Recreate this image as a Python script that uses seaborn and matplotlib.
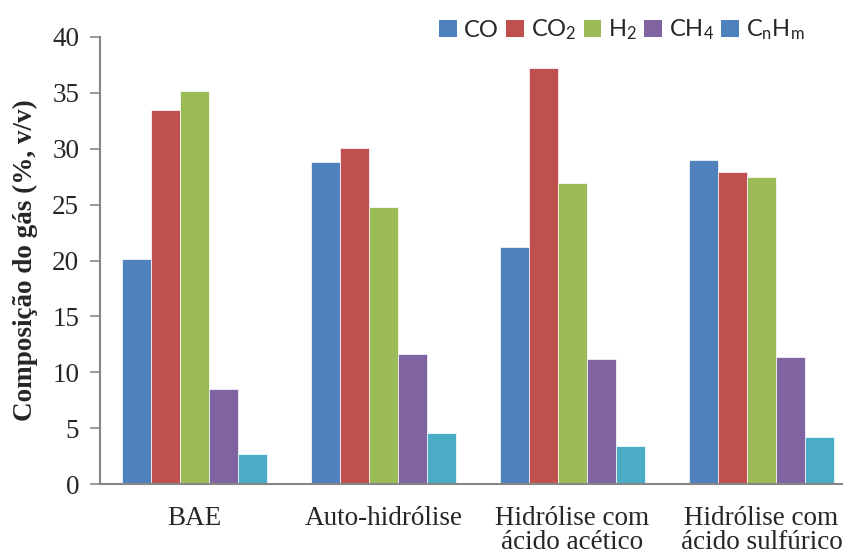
import numpy as np
import pandas as pd
import matplotlib
matplotlib.use("Agg")
import matplotlib.pyplot as plt
from matplotlib.patches import Patch
import seaborn as sns

categories = ["BAE", "Auto-hidrólise", "Hidrólise com\nácido acético", "Hidrólise com\nácido sulfúrico"]
gases = ["CO", "CO$_2$", "H$_2$", "CH$_4$", "C$_n$H$_m$"]
co = [20.1, 28.8, 21.2, 29.0]
co2 = [33.5, 30.1, 37.2, 27.9]
h2 = [35.2, 24.8, 26.9, 27.5]
ch4 = [8.5, 11.6, 11.2, 11.4]
cnhm = [2.7, 4.6, 3.4, 4.2]
yticks = [0, 5, 10, 15, 20, 25, 30, 35, 40]

colors = ["#4F81BD", "#C0504D", "#9BBB59", "#8064A2", "#4BACC6"]
legend_colors = ["#4F81BD", "#C0504D", "#9BBB59", "#8064A2", "#4F81BD"]

rows = []
for g, vals in zip(gases, [co, co2, h2, ch4, cnhm]):
    for c, v in zip(categories, vals):
        rows.append({"cat": c, "gas": g, "val": v})
df = pd.DataFrame(rows)

sns.set_style("white")
plt.rcParams["mathtext.default"] = "regular"

fig = plt.figure(figsize=(8.43, 5.57), dpi=100)
ax = fig.add_axes([100/843, (557-484)/557, 756/843, (484-37)/557])

sns.barplot(data=df, x="cat", y="val", hue="gas", order=categories, hue_order=gases,
            palette=colors, saturation=1, width=0.77, gap=0, edgecolor="white", linewidth=0.5,
            errorbar=None, ax=ax, legend=False)

fs = 19.5
ax.set_xlim(-0.5, 3.5)
ax.set_ylim(0, 40)
ax.set_yticks(yticks)
ax.set_yticklabels([str(t) for t in yticks], fontfamily="Liberation Serif", fontsize=fs)
ax.set_xticks(range(4))
ax.set_xticklabels(categories, fontfamily="Liberation Serif", fontsize=fs, linespacing=0.95)
ax.set_xticks([-0.5, 0.5, 1.5, 2.5, 3.5], minor=True)
ax.tick_params(axis="x", which="major", length=0, pad=16)
ax.tick_params(axis="x", which="minor", length=7, width=1.5, color="#868686", direction="out")
ax.tick_params(axis="y", which="major", length=7, width=1.2, color="#868686", direction="out", pad=8, left=True)
ax.set_xlabel("")
ax.set_ylabel("Composição do gás (%, v/v)", fontfamily="Liberation Serif", fontsize=fs,
              fontweight="bold", labelpad=10)

for s in ["top", "right"]:
    ax.spines[s].set_visible(False)
for s in ["left", "bottom"]:
    ax.spines[s].set_color("#868686")
    ax.spines[s].set_linewidth(1.5)

handles = [Patch(facecolor=c, edgecolor="none", label=g) for c, g in zip(legend_colors, gases)]
fig.legend(handles=handles, loc="center", bbox_to_anchor=(622/843, 1 - 30/557), ncol=5,
           frameon=False, prop={"family": "Lato", "size": 17}, handlelength=0.75,
           handleheight=0.75, handletextpad=0.3, columnspacing=0.3, borderaxespad=0)

fig.savefig("out.png", dpi=100)
